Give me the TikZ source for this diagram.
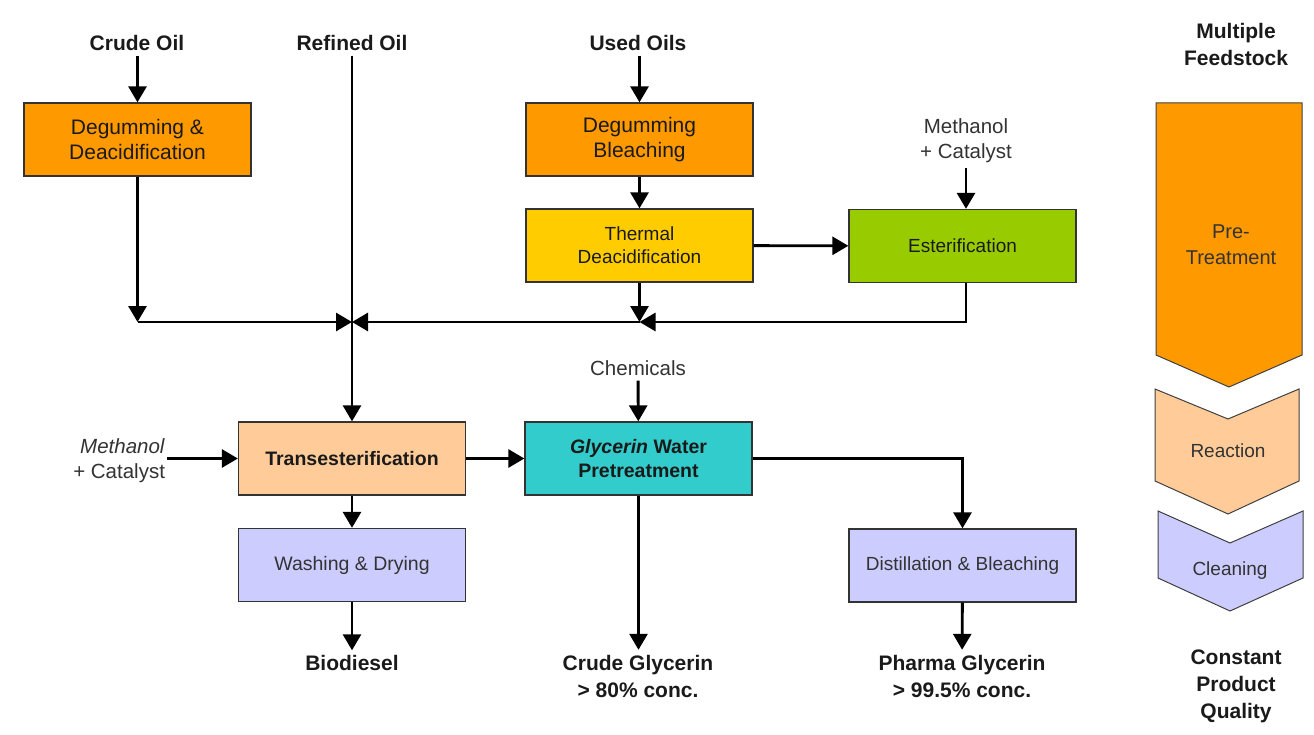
\documentclass[tikz,border=0pt]{standalone}
\usepackage{fontspec}
\setmainfont{Liberation Sans}
\usetikzlibrary{arrows.meta}
\definecolor{orangeC}{HTML}{FF9900}
\definecolor{yellowC}{HTML}{FFCC00}
\definecolor{greenC}{HTML}{99CC00}
\definecolor{peachC}{HTML}{FFCC99}
\definecolor{tealC}{HTML}{33CCCC}
\definecolor{lavC}{HTML}{CCCCFF}
\definecolor{txtC}{HTML}{1A1A1A}
\begin{document}
\begin{tikzpicture}[x=1pt,y=-1pt,
  box/.style={draw=black!80, line width=1.3pt, minimum width=227pt, minimum height=73pt,
    inner sep=0pt, align=center, text=txtC, font=\fontsize{21}{25}\selectfont},
  lbl/.style={font=\bfseries\fontsize{21}{27}\selectfont, align=center, inner sep=0pt,
    outer sep=5pt, text=txtC},
  note/.style={font=\fontsize{20.5}{25}\selectfont, align=center, inner sep=0pt,
    outer sep=5pt, text=black!80},
  chev/.style={draw=black!75, line width=1pt},
  chevtxt/.style={font=\fontsize{20}{26}\selectfont, align=center, text=black!80, inner sep=0pt},
  flow/.style={line width=2.9pt, draw=black, -{Triangle[length=16pt,width=18pt]}}
]
\useasboundingbox (0,0) rectangle (1314,735);
\fill[white] (0,0) rectangle (1314,735);

% labels
\node[lbl] (crude) at (137,43) {Crude Oil};
\node[lbl] (refined) at (352,43) {Refined Oil};
\node[lbl] (used) at (638,43) {Used Oils};
\node[lbl] (multi) at (1236,44) {Multiple\\Feedstock};

% boxes
\node[box, fill=orangeC] (dd) at (137.5,139.5) {Degumming \&\\Deacidification};
\node[box, fill=orangeC] (db) at (639.5,139.5) {Degumming\\Bleaching};
\node[box, fill=yellowC, font=\fontsize{19}{23}\selectfont] (td) at (639.5,245.5) {Thermal\\Deacidification};
\node[box, fill=greenC, font=\fontsize{19}{23}\selectfont] (est) at (962.5,246) {Esterification};
\node[note] (meth1) at (966,141) {Methanol\\+ Catalyst};

\node[box, fill=peachC, font=\bfseries\fontsize{19.5}{25}\selectfont] (trans) at (352,458.5) {Transesterification};
\node[box, fill=tealC, font=\bfseries\fontsize{19.5}{24}\selectfont] (gly) at (638.5,458.5) {\textit{Glycerin} Water\\Pretreatment};
\node[note] (chem) at (638,368) {Chemicals};
\node[note, align=right, anchor=east, outer sep=2pt] (meth2) at (167,460.5) {\textit{Methanol}\\+ Catalyst};

\node[box, fill=lavC, text=black!80, font=\fontsize{19.5}{25}\selectfont] (wash) at (352,565) {Washing \& Drying};
\node[box, fill=lavC, text=black!80, font=\fontsize{19}{23}\selectfont] (dist) at (962.5,565.5) {Distillation \& Bleaching};

\node[lbl] (bio) at (352,663) {Biodiesel};
\node[lbl] (cg) at (638,676) {Crude Glycerin\\> 80\% conc.};
\node[lbl] (pg) at (962,676) {Pharma Glycerin\\> 99.5\% conc.};
\node[lbl] (const) at (1236,686) {Constant\\Product\\Quality};

% junctions
\coordinate (jL) at (352,322);
\coordinate (jM) at (639.5,322);
\coordinate (jC) at (137.5,322);
\coordinate (jE) at (966,322);

% connectors
\draw[flow] (dd.north |- crude.south) -- (dd.north);
\draw[flow] (refined) -- (trans);
\draw[flow] (db.north |- used.south) -- (db.north);
\draw[flow] (db) -- (td);
\draw[flow] (td) -- (est);
\draw[flow] (meth1.south) -- (meth1.south |- est.north);
\draw[flow] (dd.south) -- (jC);
\draw[flow] (jC) -- (jL);
\draw[flow] (td.south) -- (jM);
\draw[flow] (jE |- est.south) -- (jE) -- (jM);
\draw[flow] (jM) -- (jL);
\draw[flow] (meth2.east |- trans.west) -- (trans.west);
\draw[flow] (trans) -- (gly);
\draw[flow] (chem) -- (gly);
\draw[flow] (trans) -- (wash);
\draw[flow] (wash) -- (bio);
\draw[flow] (gly.south) -- (gly.south |- cg.north);
\draw[flow] (gly.east) -| (dist.north);
\draw[flow] (dist) -- (pg);

% chevrons
\draw[chev, fill=orangeC] (1156,103) -- (1302,103) -- (1302,355) -- (1229,387) -- (1156,355) -- cycle;
\draw[chev, fill=peachC] (1155,389) -- (1228,419) -- (1299,389) -- (1299,481) -- (1228,514) -- (1155,481) -- cycle;
\draw[chev, fill=lavC] (1158,511) -- (1230,543) -- (1303,511) -- (1303,578) -- (1230,611) -- (1158,578) -- cycle;
\node[chevtxt] (pre) at (1231,245) {Pre-\\Treatment};
\node[chevtxt, font=\fontsize{19}{26}\selectfont] (react) at (1228,451) {Reaction};
\node[chevtxt, font=\fontsize{19}{26}\selectfont] (clean) at (1230,571) {Cleaning};
\end{tikzpicture}
\end{document}
